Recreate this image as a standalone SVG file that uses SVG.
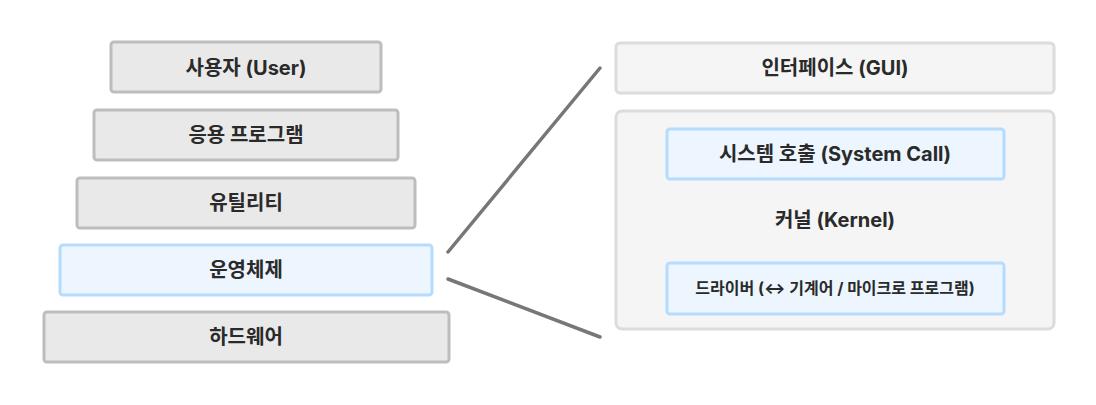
<svg xmlns="http://www.w3.org/2000/svg" width="1096" height="405" viewBox="0 0 1096 405">
<style>
text{font-family:"Inter","Noto Sans CJK KR",sans-serif;font-weight:700;fill:#2a2a2a;text-anchor:middle;dominant-baseline:central}
.g{fill:#e9e9e9;stroke:#bdbdbd;stroke-width:3}
.b{fill:#edf6ff;stroke:#b5dcff;stroke-width:3}
.c{fill:#f5f5f5;stroke:#dcdcdc;stroke-width:3}
.t{font-size:20px}
.s{font-size:16px}
.ln{stroke:#777;stroke-width:3.5;stroke-linecap:round;fill:none}
</style>
<rect width="1096" height="405" fill="#fff"/>
<g id="user"><rect class="g" x="111" y="42" width="270" height="50" rx="3"/><text class="t" x="246" y="68">사용자 (User)</text></g>
<g id="app"><rect class="g" x="94" y="110" width="304" height="50" rx="3"/><text class="t" x="246" y="135">응용 프로그램</text></g>
<g id="util"><rect class="g" x="77" y="178" width="338" height="50" rx="3"/><text class="t" x="246" y="203">유틸리티</text></g>
<g id="os"><rect class="b" x="60" y="245" width="372" height="50" rx="3"/><text class="t" x="246" y="270">운영체제</text></g>
<g id="hw"><rect class="g" x="44" y="312" width="405" height="50" rx="3"/><text class="t" x="246" y="337">하드웨어</text></g>
<g id="connectors">
<line class="ln" x1="448" y1="252" x2="600" y2="68"/>
<line class="ln" x1="448" y1="279" x2="600" y2="337"/>
</g>
<g id="gui"><rect class="c" x="616" y="43" width="438" height="50" rx="4"/><text class="t" x="835" y="68">인터페이스 (GUI)</text></g>
<g id="kernel"><rect class="c" x="616" y="111" width="438" height="218" rx="6"/><text class="t" x="835" y="220">커널 (Kernel)</text></g>
<g id="syscall"><rect class="b" x="667" y="129" width="337" height="50" rx="3"/><text class="t" x="835" y="154">시스템 호출 (System Call)</text></g>
<g id="driver"><rect class="b" x="667" y="263" width="337" height="51" rx="3"/><text class="s" x="835" y="288">드라이버 (↔ 기계어 / 마이크로 프로그램)</text></g>
</svg>
